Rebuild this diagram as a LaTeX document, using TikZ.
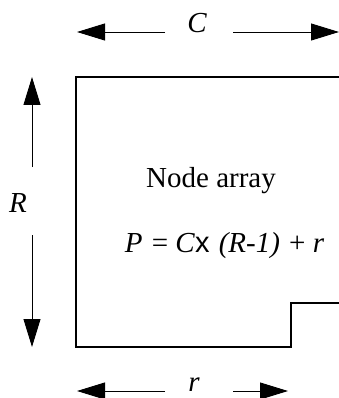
\documentclass[tikz,border=0pt]{standalone}
\usepackage{fontspec}
\setmainfont{Liberation Serif}
\newfontfamily\sansf{Liberation Sans}
\usetikzlibrary{arrows.meta}
\begin{document}
\begin{tikzpicture}[x=1pt,y=-1pt,
  dimarrow/.style={line width=0.9pt,-{Triangle[length=28pt,width=17pt]}},
  boxline/.style={line width=1.3pt,line join=miter},
  lbl/.style={anchor=base,inner sep=0pt,font=\fontsize{29}{34}\selectfont}]
\useasboundingbox (0,0) rectangle (339,398);
% box outline (open on the right)
\draw[boxline] (339,303) -- (291,303) -- (291,347) -- (76,347) -- (76,77) -- (339,77);
% top dimension C
\node[lbl] (C) at (197,33) {\itshape C};
\coordinate (cl1) at (165,32); \coordinate (cl2) at (77,32);
\coordinate (cr1) at (233,32); \coordinate (cr2) at (339,32);
\draw[dimarrow] (cl1) -- (cl2);
\draw[dimarrow] (cr1) -- (cr2);
% left dimension R
\node[lbl] (R) at (18,212) {\itshape R};
\coordinate (ru1) at (32,167); \coordinate (ru2) at (32,77);
\coordinate (rd1) at (32,235); \coordinate (rd2) at (32,347);
\draw[dimarrow] (ru1) -- (ru2);
\draw[dimarrow] (rd1) -- (rd2);
% bottom dimension r
\node[lbl] (r) at (194,391) {\itshape r};
\coordinate (bl1) at (165,391); \coordinate (bl2) at (77,391);
\coordinate (br1) at (233,391); \coordinate (br2) at (288,391);
\draw[dimarrow] (bl1) -- (bl2);
\draw[dimarrow] (br1) -- (br2);
% texts
\node[lbl] (na) at (211,187) {Node array};
\node[lbl] (eq) at (224.5,252) {\itshape P\/\hspace{2pt} \upshape= \itshape C\/{\sansf\upshape x}\hspace{2pt} (R-1)\hspace{2pt} \upshape+ \itshape r};
\end{tikzpicture}
\end{document}
